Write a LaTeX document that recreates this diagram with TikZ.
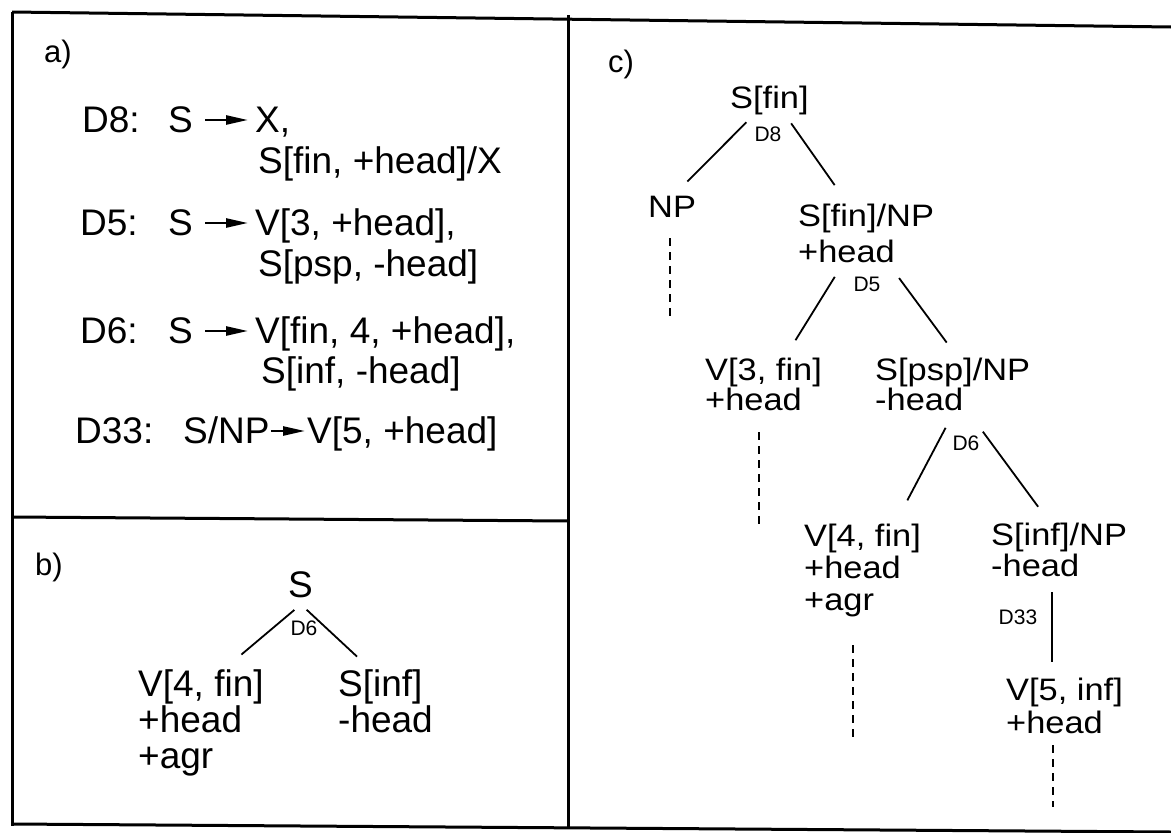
\documentclass[tikz,border=0pt]{standalone}
\usepackage{fontspec}
\setmainfont{Liberation Sans}
\newfontfamily\treefont[FakeStretch=1.11]{Liberation Sans}
\usetikzlibrary{arrows.meta}

\begin{document}
\begin{tikzpicture}[x=1pt,y=-1pt,
    panel/.style={anchor=base west, inner sep=0pt, font=\fontsize{31}{31}\selectfont},
    bigcat/.style={anchor=base west, inner sep=0pt, text height=29pt, text depth=5pt, font=\fontsize{37}{37}\selectfont},
    cat/.style={anchor=base west, inner sep=0pt, text height=26pt, text depth=7pt, font=\treefont\fontsize{31}{31}\selectfont},
    rulelabel/.style={inner sep=0pt, font=\fontsize{21}{21}\selectfont},
    branch/.style={line width=1.8pt},
    trace/.style={line width=1.6pt, dash pattern=on 8pt off 6pt},
    derive/.style={line width=2.5pt, -{Triangle[length=22pt,width=9pt]}, shorten <=12pt, shorten >=7pt}]

  \useasboundingbox (0,0) rectangle (1171,833);

  % frame
  \begin{scope}[line width=3pt]
    \draw (12,12) -- (1171,27);
    \draw (12,12) -- (12,826);
    \draw (12,824) -- (1171,832);
    \draw (568,15) -- (568,828);
    \draw (12,517) -- (568,521);
  \end{scope}

  \node[panel] (a0) at (44,62)  {a)};
  \node[panel] (b0) at (35,575) {b)};
  \node[panel] (c0) at (608,72) {c)};

  % a) rules
  \begin{scope}[every node/.style={bigcat}]
    \node (a1)  at (82,132)  {D8:};
    \node (a2)  at (168,132) {S};
    \node (a3)  at (255,132) {X,};
    \node (a4)  at (258,173) {S[fin, +head]/X};
    \node (a5)  at (80,235)  {D5:};
    \node (a6)  at (168,235) {S};
    \node (a7)  at (255,235) {V[3, +head],};
    \node (a8)  at (258,276) {S[psp, -head]};
    \node (a9)  at (80,343)  {D6:};
    \node (a10) at (168,343) {S};
    \node (a11) at (255,343) {V[fin, 4, +head],};
    \node (a12) at (261,383) {S[inf, -head]};
    \node (a13) at (75,443)  {D33:};
    \node (a14) at (183,443) {S/NP};
    \node (a15) at (307,443) {V[5, +head]};
  \end{scope}

  \begin{scope}[every path/.style={derive}]
    \draw (a2.east) -- (a2.east -| a3.west);
    \draw (a6.east) -- (a6.east -| a7.west);
    \draw (a10.east) -- (a10.east -| a11.west);
    \draw[shorten <=1pt, shorten >=2pt] (a14.east) -- (a14.east -| a15.west);
  \end{scope}

  % b) local tree
  \begin{scope}[every node/.style={bigcat}]
    \node (b1) at (288,597) {S};
    \node (b2) at (138,696) {V[4, fin]};
    \node (b3) at (138,732) {+head};
    \node (b4) at (138,768) {+agr};
    \node (b5) at (338,696) {S[inf]};
    \node (b6) at (338,732) {-head};
  \end{scope}
  \node[rulelabel] (b7) at (304,628) {D6};

  \draw[branch, shorten <=12pt, shorten >=19pt] ([xshift=3pt]b1.south) -- ([xshift=-37pt]b2.north east);
  \draw[branch, shorten <=11pt, shorten >=15pt] ([xshift=-2pt]b1.south) -- ([xshift=30pt]b5.north west);

  % c) tree with slash
  \begin{scope}[every node/.style={cat}]
    \node (c1)  at (730,108)  {S[fin]};
    \node (c2)  at (648,217)  {NP};
    \node (c3)  at (798,226)  {S[fin]/NP};
    \node (c4)  at (798,262)  {+head};
    \node (c5)  at (705,380)  {V[3, fin]};
    \node (c6)  at (705,410)  {+head};
    \node (c7)  at (875,380)  {S[psp]/NP};
    \node (c8)  at (875,410)  {-head};
    \node (c9)  at (804,546)  {V[4, fin]};
    \node (c10) at (804,578)  {+head};
    \node (c11) at (804,610)  {+agr};
    \node (c12) at (991,545)  {S[inf]/NP};
    \node (c13) at (991,576)  {-head};
    \node (c14) at (1006,700) {V[5, inf]};
    \node (c15) at (1006,733) {+head};
  \end{scope}

  \begin{scope}[every node/.style={rulelabel}]
    \node (c16) at (768,134)  {D8};
    \node (c17) at (867,284)  {D5};
    \node (c18) at (966,443)  {D6};
    \node (c19) at (1018,617) {D33};
  \end{scope}

  \begin{scope}[every path/.style={branch}]
    \draw[shorten <=10pt, shorten >=13pt] ([xshift=-16pt]c1.south) -- ([xshift=-18pt]c2.north east);
    \draw[shorten <=10pt, shorten >=18pt] ([xshift=16pt]c1.south) -- ([xshift=47pt]c3.north west);
    \draw[shorten <=9pt, shorten >=16pt] ([xshift=-7pt]c4.south) -- ([xshift=-35pt]c5.north east);
    \draw[shorten <=11pt, shorten >=14pt] ([xshift=46pt]c4.south) -- ([xshift=80pt]c7.north west);
    \draw[shorten <=12pt, shorten >=22pt] ([xshift=32pt]c8.south) -- ([xshift=-24pt]c9.north east);
    \draw[shorten <=18pt, shorten >=15pt] ([xshift=53pt]c8.south) -- ([xshift=56pt]c12.north west);
    \draw[shorten <=9pt, shorten >=12pt] ([xshift=17pt]c13.south) -- ([xshift=17pt]c13.south |- c14.north);
  \end{scope}

  % traces
  \coordinate (c2t)  at (670,317);
  \coordinate (c6t)  at (759,525);
  \coordinate (c11t) at (853,740);
  \coordinate (c15t) at (1053,807);
  \draw[trace, shorten <=14pt] (c2.south -| c2t) -- (c2t);
  \draw[trace, shorten <=15pt] (c6.south -| c6t) -- (c6t);
  \draw[trace, shorten <=28pt] (c11.south -| c11t) -- (c11t);
  \draw[trace, shorten <=5pt] (c15.south -| c15t) -- (c15t);

\end{tikzpicture}
\end{document}
